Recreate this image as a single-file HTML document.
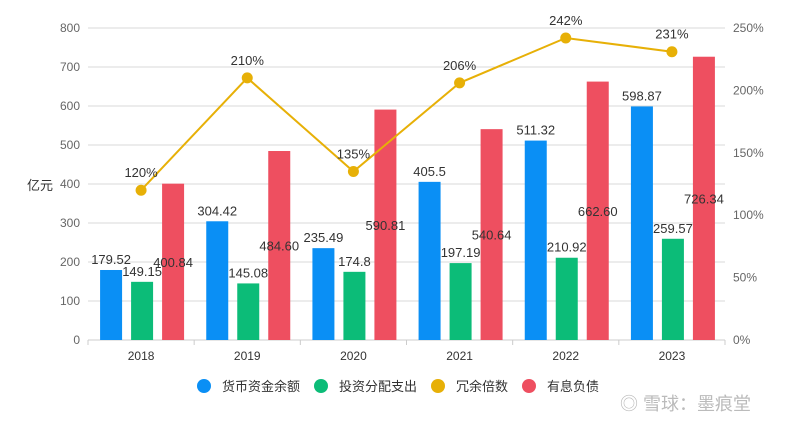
<!DOCTYPE html>
<html><head><meta charset="utf-8"><style>
body{margin:0;background:#fff;}
svg text{font-family:"Liberation Sans","Noto Sans CJK SC",sans-serif;}
</style></head><body>
<svg id="c" width="800" height="433" viewBox="0 0 800 433">
<g id="grid"></g><g id="bars"></g><g id="line"></g><g id="labels"></g>
<text x="40" y="190" font-size="13" fill="#333" text-anchor="middle">亿元</text>
<g id="legend" font-size="13" fill="#333">
<circle cx="204" cy="386" r="7" fill="#0a8ff5"/>
<text x="222" y="391">货币资金余额</text>
<circle cx="321" cy="386" r="7" fill="#0cbc78"/>
<text x="339" y="391">投资分配支出</text>
<circle cx="438" cy="386" r="7" fill="#e7b007"/>
<text x="456" y="391">冗余倍数</text>
<circle cx="529" cy="386" r="7" fill="#ee4f60"/>
<text x="547" y="391">有息负债</text>
</g>
<text x="620" y="410" font-size="18" fill="#bbb">◎ 雪球：墨痕堂</text>
</svg>
<script>
const categories=["2018","2019","2020","2021","2022","2023"];
const cash=[179.52,304.42,235.49,405.5,511.32,598.87];
const invest=[149.15,145.08,174.8,197.19,210.92,259.57];
const debt=[400.84,484.60,590.81,540.64,662.60,726.34];
const ratio=[120,210,135,206,242,231];
const debtLabels=["400.84","484.60","590.81","540.64","662.60","726.34"];
const leftTicks=[0,100,200,300,400,500,600,700,800];
const rightTicks=[0,50,100,150,200,250];
const NS="http://www.w3.org/2000/svg";
const x0=88,x1=725,yb=340,yt=28;
const step=(x1-x0)/categories.length;
const xc=i=>x0+step*(i+0.5);
const yL=v=>yb-(v/800)*(yb-yt);
const yR=v=>yb-(v/250)*(yb-yt);
function mk(tag,a,p){const e=document.createElementNS(NS,tag);for(const k in a)e.setAttribute(k,a[k]);p.appendChild(e);return e;}
const grid=document.getElementById('grid'),bars=document.getElementById('bars'),line=document.getElementById('line'),labels=document.getElementById('labels');
leftTicks.forEach(t=>{
 const l=mk('line',{x1:x0,x2:x1,y1:yL(t),y2:yL(t),stroke:t===0?'#ccc':'#d9d9d9','stroke-width':1},grid);
 
 
 const tx=mk('text',{x:x0-8,y:yL(t)+4,'font-size':12,fill:'#666','text-anchor':'end'},grid);tx.textContent=t;
 
 
});
rightTicks.forEach(t=>{
 const tx=mk('text',{x:x1+8,y:yR(t)+4,'font-size':12,fill:'#666'},grid);tx.textContent=t+'%';
 
 
});
for(let i=0;i<=categories.length;i++){
 const tk=mk('line',{x1:x0+step*i,x2:x0+step*i,y1:yb,y2:yb+5,stroke:'#ccc'},grid);
 
 
}
const bw=22;
categories.forEach((c,i)=>{
 const cx=xc(i);
 const t=mk('text',{x:cx,y:yb+20,'font-size':12,fill:'#333','text-anchor':'middle'},grid);t.textContent=c;
 
 
 [[cash,-30,'#0a8ff5','bar-cash'],[invest,1,'#0cbc78','bar-invest'],[debt,32,'#ee4f60','bar-debt']].forEach(([arr,off,col,nm],k)=>{
  const v=arr[i],bx=cx+off-bw/2;
  const r=mk('rect',{x:bx,y:yL(v),width:bw,height:yb-yL(v),fill:col},bars);
  
  
  const ly=k===2?(yL(v)+yb)/2+5:yL(v)-6;
  const lt=mk('text',{x:cx+off,y:ly,'font-size':13,fill:'#333','text-anchor':'middle'},labels);
  lt.textContent=k===2?debtLabels[i]:String(v);
  
  
 });
});
const pts=ratio.map((v,i)=>xc(i)+','+yR(v)).join(' ');
const pl=mk('polyline',{points:pts,fill:'none',stroke:'#e7b007','stroke-width':2},line);


ratio.forEach((v,i)=>{
 const p=mk('circle',{cx:xc(i),cy:yR(v),r:5.5,fill:'#e7b007'},line);
 
 
 const t=mk('text',{x:xc(i),y:yR(v)-13,'font-size':13,fill:'#333','text-anchor':'middle'},labels);t.textContent=v+'%';
 
 
});
</script>
</body></html>
